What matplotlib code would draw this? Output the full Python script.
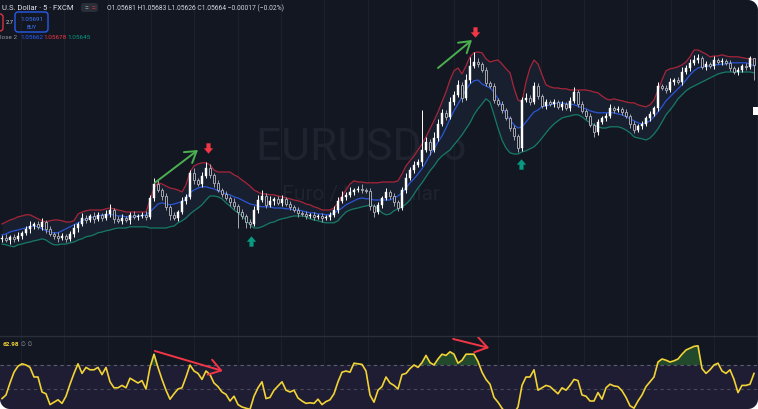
import numpy as np
import matplotlib
matplotlib.use("Agg")
import matplotlib.pyplot as plt
from matplotlib.patches import FancyBboxPatch, Polygon, Rectangle
from matplotlib.path import Path
from matplotlib.lines import Line2D

plt.rcParams['font.family'] = ['Roboto', 'DejaVu Sans']

# ---------------- data (EURUSD 5 min, FXCM) ----------------
closes = [
    1.05232, 1.05227, 1.05235, 1.05230, 1.05237, 1.05245, 1.05255, 1.05262, 1.05267, 1.05260,
    1.05272, 1.05255, 1.05242, 1.05237, 1.05232, 1.05237, 1.05230, 1.05242, 1.05257, 1.05267,
    1.05282, 1.05277, 1.05287, 1.05280, 1.05290, 1.05282, 1.05292, 1.05302, 1.05280, 1.05275,
    1.05282, 1.05277, 1.05290, 1.05285, 1.05287, 1.05290, 1.05285, 1.05332, 1.05367, 1.05352,
    1.05337, 1.05310, 1.05290, 1.05282, 1.05297, 1.05325, 1.05335, 1.05395, 1.05377, 1.05367,
    1.05387, 1.05407, 1.05390, 1.05370, 1.05352, 1.05342, 1.05332, 1.05322, 1.05312, 1.05297,
    1.05287, 1.05272, 1.05267, 1.05302, 1.05327, 1.05337, 1.05315, 1.05325, 1.05330, 1.05320,
    1.05330, 1.05317, 1.05310, 1.05302, 1.05295, 1.05292, 1.05287, 1.05290, 1.05285, 1.05287,
    1.05282, 1.05285, 1.05290, 1.05302, 1.05325, 1.05335, 1.05340, 1.05347, 1.05352, 1.05355,
    1.05352, 1.05350, 1.05312, 1.05297, 1.05315, 1.05332, 1.05347, 1.05337, 1.05322, 1.05307,
    1.05352, 1.05382, 1.05402, 1.05415, 1.05422, 1.05452, 1.05472, 1.05452, 1.05482, 1.05517,
    1.05545, 1.05535, 1.05572, 1.05590, 1.05615, 1.05582, 1.05627, 1.05662, 1.05672, 1.05667,
    1.05652, 1.05620, 1.05612, 1.05577, 1.05567, 1.05552, 1.05532, 1.05507, 1.05487, 1.05457,
    1.05577, 1.05582, 1.05572, 1.05612, 1.05587, 1.05562, 1.05572, 1.05567, 1.05572, 1.05560,
    1.05567, 1.05557, 1.05575, 1.05597, 1.05567, 1.05550, 1.05537, 1.05515, 1.05497, 1.05522,
    1.05532, 1.05537, 1.05557, 1.05552, 1.05555, 1.05547, 1.05537, 1.05517, 1.05502, 1.05512,
    1.05517, 1.05532, 1.05542, 1.05557, 1.05612, 1.05607, 1.05602, 1.05622, 1.05627, 1.05622,
    1.05647, 1.05657, 1.05670, 1.05677, 1.05682, 1.05660, 1.05667, 1.05662, 1.05677, 1.05672,
    1.05675, 1.05670, 1.05657, 1.05647, 1.05652, 1.05662, 1.05660, 1.05681, 1.05664]
first_open = 1.05230

upper_wick_pips = [
    0.8, 1.0, 0.5, 0.8, 1.0, 0.5, 0.8, 1.2, 0.5, 0.8,
    1.0, 0.5, 0.8, 0.5, 1.0, 0.8, 0.5, 0.8, 1.0, 0.5,
    1.2, 0.8, 0.5, 1.0, 0.8, 0.5, 1.0, 1.5, 0.5, 0.8,
    1.0, 0.5, 0.8, 1.0, 0.5, 0.8, 1.0, 0.8, 1.5, 1.2,
    0.5, 0.8, 0.5, 0.8, 0.5, 1.0, 0.8, 0.8, 1.2, 0.5,
    1.0, 1.5, 1.0, 0.5, 0.8, 0.5, 0.8, 0.5, 1.0, 0.5,
    0.8, 0.5, 0.8, 1.0, 1.2, 1.5, 0.8, 1.2, 0.5, 0.8,
    1.0, 0.5, 0.8, 0.5, 0.8, 0.5, 0.8, 0.5, 0.8, 0.5,
    0.8, 0.5, 0.8, 1.0, 1.0, 1.5, 0.8, 1.2, 0.5, 0.8,
    1.2, 0.5, 0.8, 0.5, 0.8, 0.5, 1.0, 0.5, 0.8, 0.5,
    0.8, 1.2, 0.8, 1.0, 0.8, 10.0, 1.2, 0.8, 1.5, 1.2,
    1.0, 0.8, 1.2, 1.0, 1.2, 0.8, 1.5, 2.2, 2.5, 1.0,
    0.5, 0.8, 0.5, 0.8, 0.5, 0.8, 0.5, 0.5, 0.8, 0.5,
    0.8, 1.2, 0.8, 1.0, 0.8, 0.5, 0.8, 0.5, 0.8, 0.5,
    0.8, 0.5, 1.0, 1.2, 0.5, 0.8, 0.5, 0.8, 0.5, 0.8,
    0.5, 0.8, 1.0, 0.5, 0.8, 0.5, 0.8, 0.5, 0.8, 0.5,
    0.8, 0.5, 0.8, 0.5, 1.0, 0.5, 0.8, 1.0, 0.5, 0.8,
    1.2, 0.8, 1.0, 1.2, 1.0, 0.5, 0.8, 0.5, 1.0, 0.5,
    0.8, 0.5, 0.8, 0.5, 0.8, 0.5, 0.8, 0.5, 0.2]

lower_wick_pips = [
    0.8, 0.5, 1.0, 0.8, 0.5, 0.8, 0.5, 1.0, 0.8, 0.5,
    0.8, 1.0, 0.5, 0.8, 1.0, 0.5, 0.8, 0.5, 0.8, 1.0,
    0.5, 0.8, 0.5, 1.0, 0.5, 0.8, 0.5, 0.8, 1.0, 0.5,
    0.8, 0.5, 1.0, 0.5, 0.8, 0.5, 0.8, 0.5, 0.8, 0.5,
    1.0, 0.8, 1.2, 0.5, 0.8, 0.5, 0.8, 0.5, 1.0, 0.5,
    0.8, 0.5, 0.8, 1.0, 0.5, 0.8, 0.5, 1.0, 0.8, 4.0,
    0.8, 1.5, 1.0, 0.5, 0.8, 0.5, 0.8, 0.5, 1.0, 0.5,
    0.8, 0.5, 0.8, 0.5, 1.0, 0.5, 0.8, 0.5, 0.8, 0.5,
    1.0, 0.5, 0.8, 0.5, 0.8, 0.5, 0.8, 0.5, 0.8, 0.5,
    0.8, 0.5, 1.0, 1.2, 0.5, 0.8, 0.5, 0.8, 1.0, 0.8,
    0.5, 0.8, 0.5, 0.8, 0.5, 1.0, 0.5, 1.2, 0.5, 0.8,
    0.5, 0.8, 0.5, 0.8, 0.5, 1.0, 0.5, 0.8, 0.5, 0.8,
    0.5, 0.8, 0.5, 0.8, 0.5, 0.8, 0.5, 0.8, 1.0, 1.0,
    0.8, 0.5, 0.8, 0.5, 0.8, 0.5, 0.8, 0.5, 0.8, 0.5,
    0.8, 0.5, 0.8, 0.5, 0.8, 0.5, 0.8, 0.5, 1.2, 0.8,
    0.5, 0.8, 0.5, 0.8, 0.5, 0.8, 0.5, 1.0, 0.8, 0.5,
    0.8, 0.5, 0.8, 0.5, 0.8, 0.5, 0.8, 0.5, 0.8, 0.5,
    0.8, 0.5, 0.8, 0.5, 0.8, 0.5, 0.8, 0.5, 0.8, 0.5,
    0.8, 0.5, 0.8, 0.5, 0.8, 0.5, 0.8, 0.5, 3.8]

bb_upper = [
    1.05267, 1.05272, 1.05277, 1.05280, 1.05285, 1.05287, 1.05290, 1.05290, 1.05285, 1.05280,
    1.05275, 1.05272, 1.05275, 1.05277, 1.05277, 1.05275, 1.05272, 1.05272, 1.05275, 1.05292,
    1.05297, 1.05300, 1.05302, 1.05302, 1.05302, 1.05302, 1.05305, 1.05307, 1.05305, 1.05302,
    1.05300, 1.05297, 1.05297, 1.05297, 1.05297, 1.05297, 1.05297, 1.05327, 1.05357, 1.05370,
    1.05367, 1.05362, 1.05357, 1.05355, 1.05352, 1.05347, 1.05365, 1.05397, 1.05412, 1.05417,
    1.05420, 1.05420, 1.05415, 1.05402, 1.05397, 1.05397, 1.05397, 1.05397, 1.05390, 1.05385,
    1.05377, 1.05370, 1.05362, 1.05352, 1.05347, 1.05342, 1.05342, 1.05340, 1.05340, 1.05337,
    1.05335, 1.05332, 1.05330, 1.05327, 1.05325, 1.05322, 1.05317, 1.05315, 1.05310, 1.05307,
    1.05302, 1.05302, 1.05302, 1.05307, 1.05320, 1.05337, 1.05352, 1.05367, 1.05375, 1.05372,
    1.05372, 1.05370, 1.05370, 1.05370, 1.05370, 1.05372, 1.05372, 1.05372, 1.05372, 1.05375,
    1.05392, 1.05412, 1.05425, 1.05437, 1.05452, 1.05467, 1.05485, 1.05505, 1.05525, 1.05547,
    1.05572, 1.05597, 1.05627, 1.05650, 1.05657, 1.05642, 1.05662, 1.05685, 1.05695, 1.05697,
    1.05695, 1.05680, 1.05672, 1.05675, 1.05677, 1.05667, 1.05655, 1.05645, 1.05607, 1.05577,
    1.05572, 1.05622, 1.05657, 1.05677, 1.05667, 1.05640, 1.05615, 1.05610, 1.05607, 1.05607,
    1.05605, 1.05605, 1.05602, 1.05602, 1.05602, 1.05602, 1.05602, 1.05600, 1.05597, 1.05595,
    1.05587, 1.05580, 1.05577, 1.05580, 1.05577, 1.05575, 1.05572, 1.05570, 1.05570, 1.05565,
    1.05562, 1.05560, 1.05565, 1.05577, 1.05602, 1.05627, 1.05650, 1.05655, 1.05657, 1.05660,
    1.05665, 1.05672, 1.05685, 1.05702, 1.05702, 1.05697, 1.05692, 1.05685, 1.05687, 1.05687,
    1.05690, 1.05687, 1.05685, 1.05685, 1.05685, 1.05683, 1.05681, 1.05680, 1.05678]

bb_basis = [
    1.05240, 1.05242, 1.05247, 1.05250, 1.05252, 1.05255, 1.05257, 1.05260, 1.05262, 1.05260,
    1.05255, 1.05250, 1.05247, 1.05245, 1.05245, 1.05250, 1.05255, 1.05260, 1.05265, 1.05270,
    1.05275, 1.05280, 1.05282, 1.05285, 1.05287, 1.05290, 1.05290, 1.05290, 1.05290, 1.05287,
    1.05287, 1.05285, 1.05285, 1.05285, 1.05287, 1.05287, 1.05290, 1.05297, 1.05307, 1.05317,
    1.05320, 1.05317, 1.05315, 1.05317, 1.05320, 1.05322, 1.05330, 1.05345, 1.05352, 1.05357,
    1.05360, 1.05360, 1.05357, 1.05355, 1.05350, 1.05347, 1.05342, 1.05340, 1.05335, 1.05332,
    1.05327, 1.05322, 1.05317, 1.05315, 1.05312, 1.05310, 1.05310, 1.05310, 1.05307, 1.05307,
    1.05307, 1.05305, 1.05305, 1.05302, 1.05302, 1.05300, 1.05297, 1.05295, 1.05295, 1.05292,
    1.05292, 1.05290, 1.05290, 1.05295, 1.05300, 1.05307, 1.05315, 1.05320, 1.05325, 1.05330,
    1.05332, 1.05330, 1.05330, 1.05327, 1.05327, 1.05327, 1.05327, 1.05327, 1.05332, 1.05337,
    1.05345, 1.05357, 1.05370, 1.05380, 1.05392, 1.05405, 1.05422, 1.05440, 1.05455, 1.05472,
    1.05487, 1.05507, 1.05530, 1.05550, 1.05567, 1.05585, 1.05602, 1.05617, 1.05625, 1.05627,
    1.05617, 1.05612, 1.05607, 1.05597, 1.05580, 1.05560, 1.05542, 1.05527, 1.05515, 1.05507,
    1.05510, 1.05522, 1.05535, 1.05547, 1.05552, 1.05560, 1.05562, 1.05565, 1.05567, 1.05570,
    1.05570, 1.05567, 1.05567, 1.05565, 1.05562, 1.05557, 1.05555, 1.05550, 1.05547, 1.05545,
    1.05545, 1.05545, 1.05545, 1.05545, 1.05542, 1.05540, 1.05535, 1.05530, 1.05525, 1.05520,
    1.05517, 1.05520, 1.05525, 1.05535, 1.05547, 1.05560, 1.05575, 1.05585, 1.05595, 1.05605,
    1.05615, 1.05627, 1.05640, 1.05650, 1.05657, 1.05660, 1.05662, 1.05662, 1.05665, 1.05665,
    1.05667, 1.05667, 1.05670, 1.05670, 1.05670, 1.05670, 1.05670, 1.05667, 1.05662]

bb_lower = [
    1.05217, 1.05215, 1.05212, 1.05210, 1.05215, 1.05217, 1.05220, 1.05222, 1.05225, 1.05227,
    1.05230, 1.05227, 1.05220, 1.05215, 1.05215, 1.05217, 1.05217, 1.05220, 1.05222, 1.05227,
    1.05230, 1.05235, 1.05237, 1.05240, 1.05245, 1.05247, 1.05250, 1.05252, 1.05255, 1.05257,
    1.05257, 1.05257, 1.05260, 1.05260, 1.05260, 1.05260, 1.05260, 1.05257, 1.05257, 1.05257,
    1.05257, 1.05257, 1.05260, 1.05262, 1.05270, 1.05275, 1.05282, 1.05292, 1.05300, 1.05307,
    1.05315, 1.05327, 1.05337, 1.05337, 1.05335, 1.05330, 1.05320, 1.05312, 1.05302, 1.05295,
    1.05287, 1.05277, 1.05265, 1.05257, 1.05257, 1.05260, 1.05265, 1.05270, 1.05272, 1.05277,
    1.05280, 1.05282, 1.05285, 1.05287, 1.05287, 1.05287, 1.05285, 1.05280, 1.05277, 1.05275,
    1.05272, 1.05270, 1.05270, 1.05270, 1.05275, 1.05287, 1.05297, 1.05302, 1.05305, 1.05307,
    1.05310, 1.05312, 1.05315, 1.05312, 1.05305, 1.05295, 1.05290, 1.05292, 1.05300, 1.05305,
    1.05310, 1.05317, 1.05327, 1.05342, 1.05357, 1.05370, 1.05385, 1.05400, 1.05412, 1.05427,
    1.05437, 1.05445, 1.05452, 1.05465, 1.05477, 1.05490, 1.05505, 1.05520, 1.05540, 1.05555,
    1.05567, 1.05580, 1.05572, 1.05540, 1.05507, 1.05477, 1.05457, 1.05445, 1.05442, 1.05442,
    1.05447, 1.05450, 1.05455, 1.05460, 1.05470, 1.05482, 1.05495, 1.05507, 1.05517, 1.05525,
    1.05532, 1.05535, 1.05537, 1.05540, 1.05540, 1.05535, 1.05527, 1.05520, 1.05515, 1.05510,
    1.05507, 1.05507, 1.05510, 1.05510, 1.05510, 1.05507, 1.05502, 1.05495, 1.05485, 1.05482,
    1.05480, 1.05477, 1.05482, 1.05492, 1.05505, 1.05522, 1.05540, 1.05552, 1.05565, 1.05580,
    1.05590, 1.05600, 1.05607, 1.05612, 1.05617, 1.05622, 1.05627, 1.05632, 1.05637, 1.05642,
    1.05645, 1.05647, 1.05647, 1.05647, 1.05647, 1.05647, 1.05647, 1.05647, 1.05645]

rsi = [
    42, 45, 55, 64, 69, 71, 70, 68, 60, 60,
    47.5, 46, 37, 39, 41, 38, 44, 54, 63, 71,
    63, 68, 66, 66, 68, 62, 68, 56, 51, 51,
    53, 51, 59, 57, 55, 57, 50, 68, 79, 68,
    58, 49, 41.5, 46, 50, 51, 60, 70, 65, 63,
    58, 65, 62, 55, 52, 47.5, 45.5, 40, 44, 37,
    35, 34, 33, 44, 51, 56, 42, 43, 49, 52.5,
    56, 49, 47.5, 49, 42.5, 40, 38, 38.5, 38, 41.5,
    37, 39.5, 41, 46, 56, 64, 65, 64, 71.5, 71,
    70.5, 65, 45, 39, 49, 52, 60, 55, 53, 50,
    62, 63, 67, 70, 68, 72, 78, 72, 70, 75,
    79, 78, 81, 79, 71.5, 74, 79, 79, 79, 73,
    64, 58, 54, 43, 39, 34, 30, 28, 30, 35,
    53, 60, 60, 66, 49, 51, 53, 52, 49, 46,
    51, 49, 53, 58, 57, 45, 44, 40, 40, 47,
    41.5, 51, 54, 52.5, 52, 48.5, 43, 36, 34, 40,
    45, 52, 56, 60, 72.5, 75, 74, 72.5, 73.5, 75,
    79, 82.5, 84, 85.5, 86, 67, 63, 66, 70, 71.5,
    65, 63, 66, 58, 47, 53, 53, 54, 62.98]

# drawings on the chart (bar index, value)
trend_arrows = [((38.2, 1.05370), (49.0, 1.05452)), ((109.0, 1.05657), (117.5, 1.05727))]
sell_marks = [(51.5, 1.05457), (118.2, 1.05747)]
buy_marks = [(62.2, 1.05225), (129.8, 1.05417)]
rsi_arrows = [((38.2, 81.7), (55.2, 65.0)), ((112.8, 91.7), (121.8, 84.2))]

title_text = "U.S. Dollar · 5 · FXCM"
watermark = "EURUSD, 5"
watermark_sub = "Euro / U.S. Dollar"
buy_price = 1.05691
spread_text = "2.7"
legend_prefix = "lose 2"
price_range = (1.04987, 1.05827)
rsi_range = (33.33, 93.33)

# ---------------- derived ----------------
c = np.array(closes)
o = np.r_[first_open, c[:-1]]
hi = np.maximum(o, c) + np.array(upper_wick_pips) * 1e-4
lo = np.minimum(o, c) - np.array(lower_wick_pips) * 1e-4
x = np.arange(len(c))
r = np.array(rsi, dtype=float)

BG = "#131722"
W, H = 758, 409
fig = plt.figure(figsize=(W / 100, H / 100), dpi=100)
fig.patch.set_facecolor(BG)


def P(px, py):
    return (px / 100.0, (H - py) / 100.0)


axp = fig.add_axes([0, 73 / H, 1, 336 / H])
axr = fig.add_axes([0, 0, 1, 72 / H])
for a in (axp, axr):
    a.set_facecolor('none')
    a.axis('off')
    a.set_xlim(-0.5, 189.0)
axp.set_ylim(*price_range)
axr.set_ylim(*rsi_range)

# grid
for g in np.arange(4.75, 190, 10.83):
    for a in (axp, axr):
        a.axvline(g, color='#1c202b', lw=0.8, zorder=0)

# watermark
axp.text(0.476, 0.524, watermark, transform=axp.transAxes, ha='center', va='baseline',
         fontsize=32, color='#1f2330', zorder=0.5, family=['Roboto', 'DejaVu Sans'])
axp.text(0.476, 0.405, watermark_sub, transform=axp.transAxes, ha='center', va='baseline',
         fontsize=15, color='#1f2330', zorder=0.5, family=['Roboto', 'DejaVu Sans'])

# bollinger
axp.fill_between(x, bb_lower, bb_upper, color='#18202f', lw=0, zorder=1)
axp.plot(x, bb_upper, color='#a8263a', lw=0.9, zorder=2)
axp.plot(x, bb_basis, color='#2a55d6', lw=0.9, zorder=2)
axp.plot(x, bb_lower, color='#167a66', lw=0.9, zorder=2)

# candles
up = c >= o
dn = ~up
axp.vlines(x[up], lo[up], hi[up], color='#ffffff', lw=0.7, zorder=3)
axp.vlines(x[dn], lo[dn], c[dn], color='#a3a6af', lw=0.7, zorder=3)
axp.vlines(x[dn], o[dn], hi[dn], color='#a3a6af', lw=0.7, zorder=3)
axp.bar(x[up], np.maximum(c - o, 0.3e-5)[up], bottom=o[up], width=0.62, color='#ffffff',
        edgecolor='#ffffff', lw=0.3, zorder=4)
axp.bar(x[dn], (o - c)[dn], bottom=c[dn], width=0.62, facecolor=BG,
        edgecolor='#a3a6af', lw=0.7, zorder=4)

# trend arrows
for (s, e) in trend_arrows:
    axp.annotate('', xy=e, xytext=s, zorder=6,
                 arrowprops=dict(arrowstyle='->,head_length=0.55,head_width=0.35',
                                 color='#4caf50', lw=1.4, mutation_scale=14,
                                 shrinkA=0, shrinkB=0))
down_arrow = Path([(-0.2, 0.5), (0.2, 0.5), (0.2, 0.02), (0.45, 0.02), (0, -0.5),
                   (-0.45, 0.02), (-0.2, 0.02), (-0.2, 0.5)],
                  [Path.MOVETO] + [Path.LINETO] * 6 + [Path.CLOSEPOLY])
up_arrow = Path([(-0.2, -0.5), (0.2, -0.5), (0.2, -0.02), (0.45, -0.02), (0, 0.5),
                 (-0.45, -0.02), (-0.2, -0.02), (-0.2, -0.5)],
                [Path.MOVETO] + [Path.LINETO] * 6 + [Path.CLOSEPOLY])
for (bi, pv) in sell_marks:
    axp.plot([bi], [pv], marker=down_arrow, ms=7.5, color='#f23645', mew=0, zorder=6)
for (bi, pv) in buy_marks:
    axp.plot([bi], [pv], marker=up_arrow, ms=7.5, color='#089981', mew=0, zorder=6)

# RSI pane
axr.axhspan(30, 70, color='#1e1d34', lw=0, zorder=0.2)
axr.axhline(70, color='#5d606b', lw=0.8, ls=(0, (3, 3)), zorder=1)
axr.axhline(50, color='#474a55', lw=0.8, ls=(0, (3, 3)), zorder=1)
axr.fill_between(x, 70, r, where=r > 70, interpolate=True, color='#2f6b35', alpha=0.6,
                 lw=0, zorder=1.5)
axr.plot(x, r, color='#f2d335', lw=1.2, zorder=3)
for (s, e) in rsi_arrows:
    axr.annotate('', xy=e, xytext=s, zorder=6,
                 arrowprops=dict(arrowstyle='->,head_length=0.6,head_width=0.4',
                                 color='#f23645', lw=1.4, mutation_scale=14,
                                 shrinkA=0, shrinkB=0))

# pane divider
fig.add_artist(Line2D([0, 1], [73 / H, 73 / H], transform=fig.transFigure,
                      color='#2a2e39', lw=1.0, zorder=5))

# ---------------- header texts ----------------
def ftxt(px, py, s, **kw):
    fig.text(px / W, 1 - py / H, s, **kw)


ftxt(2, 10, title_text, fontsize=5.5, color='#e0e3eb', va='baseline')
pill = FancyBboxPatch(P(81, 12), 17 / 100, 9 / 100, boxstyle='round,pad=0,rounding_size=0.03',
                      transform=fig.dpi_scale_trans, facecolor='#2a2e39', edgecolor='none', zorder=8)
fig.add_artist(pill)
ftxt(84, 10, "=", fontsize=5, color='#b2b5be', va='baseline', zorder=9)
ftxt(91, 10, "=", fontsize=5, color='#f23645', va='baseline', zorder=9)

chg = c[-1] - o[-1]
pct = chg / o[-1] * 100
ohlc = (f"O{o[-1]:.5f} H{hi[-1]:.5f} L{lo[-1]:.5f} C{c[-1]:.5f} "
        f"{chg:+.5f} ({pct:+.2f}%)").replace('-', '\u2212')
ftxt(107, 10, ohlc, fontsize=4.9, color='#d1d4dc', va='baseline')

redbox = FancyBboxPatch(P(-6, 31), 9 / 100, 17 / 100, boxstyle='round,pad=0,rounding_size=0.03',
                        transform=fig.dpi_scale_trans, facecolor='none', edgecolor='#f23645',
                        lw=0.9, zorder=8)
fig.add_artist(redbox)
ftxt(5.5, 24, spread_text, fontsize=4.2, color='#d1d4dc', va='baseline')
bluebox = FancyBboxPatch(P(15, 32), 33 / 100, 20 / 100, boxstyle='round,pad=0,rounding_size=0.03',
                         transform=fig.dpi_scale_trans, facecolor='none', edgecolor='#2962ff',
                         lw=0.9, zorder=8)
fig.add_artist(bluebox)
ftxt(31.5, 21, f"{buy_price:.5f}", fontsize=4.6, color='#3d74ff', ha='center', va='baseline')
ftxt(31.5, 29, "BUY", fontsize=3.9, color='#3d74ff', ha='center', va='baseline')

ftxt(0, 39, legend_prefix, fontsize=4.6, color='#9598a1', va='baseline')
ftxt(20, 39, f"{bb_basis[-1]:.5f}", fontsize=4.6, color='#2962ff', va='baseline')
ftxt(43, 39, f"{bb_upper[-1]:.5f}", fontsize=4.6, color='#f23645', va='baseline')
ftxt(67, 39, f"{bb_lower[-1]:.5f}", fontsize=4.6, color='#089981', va='baseline')

ftxt(3, 346.5, f"{r[-1]:.2f}", fontsize=4.6, color='#f2d335', va='baseline', fontweight='bold')
ftxt(21, 346.5, "\u2205 \u2205", fontsize=4.0, color='#9598a1', va='baseline',
     family=['DejaVu Sans'])

# price label stub at right edge
fig.add_artist(Rectangle(P(753, 115), 5 / 100, 8 / 100, transform=fig.dpi_scale_trans,
                         facecolor='#ffffff', edgecolor='none', zorder=20))

# rounded outer corners
Wi, Hi, rr = W / 100, H / 100, 0.10


def corner(pt, cx, cy, t0, t1):
    t = np.radians(np.linspace(t0, t1, 24))
    pts = [pt] + [(cx + rr * np.cos(a), cy + rr * np.sin(a)) for a in t]
    fig.add_artist(Polygon(pts, closed=True, transform=fig.dpi_scale_trans,
                           facecolor='white', edgecolor='none', zorder=50))


corner((0, 0), rr, rr, 180, 270)
corner((Wi, 0), Wi - rr, rr, 270, 360)
corner((Wi, Hi), Wi - rr, Hi - rr, 0, 90)

fig.savefig("out.png", dpi=100, facecolor=fig.get_facecolor())
